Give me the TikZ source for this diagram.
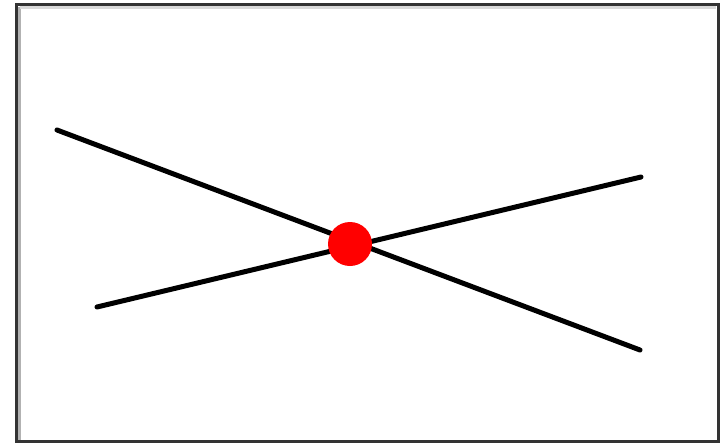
\documentclass[tikz,border=0pt]{standalone}
\begin{document}
\begin{tikzpicture}[x=1pt,y=-1pt,
  seg/.style={line width=5pt,black,line cap=round},
  dot/.style={circle,fill=red,inner sep=0pt,minimum size=44pt}]
\useasboundingbox (0,0) rectangle (720,445);
\fill[white] (0,0) rectangle (720,445);
\draw[line width=3pt,gray!60] (19.5,6.5) -- (19.5,440.5);
\draw[line width=3pt,gray!30] (19.5,7.5) -- (716,7.5);
\draw[line width=3pt,black!80] (16.5,4.5) rectangle (718.5,441.5);
\coordinate (a1) at (57,130);
\coordinate (a2) at (640,350);
\coordinate (b1) at (97,307);
\coordinate (b2) at (641,177);
\draw[seg] (a1) -- (a2);
\draw[seg] (b1) -- (b2);
\node[dot] (p) at (350,244) {};
\end{tikzpicture}
\end{document}
